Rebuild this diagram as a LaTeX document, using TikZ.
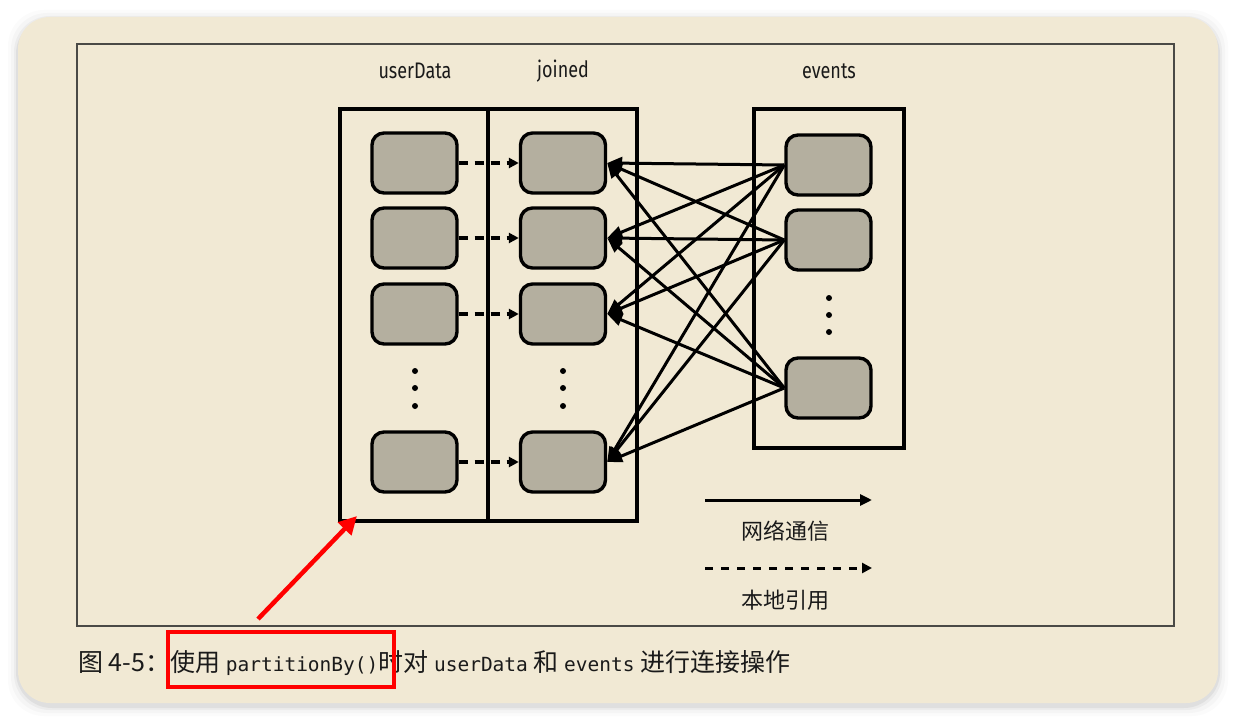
\documentclass[tikz,border=0pt]{standalone}
\usepackage{fontspec}
\usetikzlibrary{arrows.meta}
\newfontfamily\cjk{Noto Sans CJK SC}
\newfontfamily\lbl[FakeStretch=0.8]{Fira Sans}
\newfontfamily\mono{DejaVu Sans Mono}
\definecolor{card}{HTML}{F1E9D4}
\definecolor{cell}{HTML}{B4AF9F}
\definecolor{framec}{HTML}{4A4A46}
\definecolor{txt}{HTML}{1A1A1A}
\tikzset{
  bigbox/.style={draw=black, line width=3.2pt, inner sep=0pt},
  cellbox/.style={draw=black, fill=cell, line width=3.4pt, rounded corners=12pt, minimum width=85pt, minimum height=60pt, inner sep=0pt},
  netarrow/.style={draw=black, line width=3pt, -{Triangle[length=15pt,width=12pt]}},
  localarrow/.style={draw=black, line width=3.6pt, dash pattern=on 9pt off 7pt, -{Triangle[length=10pt,width=10pt]}},
  dotc/.style={fill=black, circle, inner sep=0pt, minimum size=6pt},
  title/.style={font=\lbl\fontsize{22.5}{26}\selectfont, text=txt},
  legtxt/.style={font=\cjk\fontsize{22}{26}\selectfont, text=txt},
}
\begin{document}
\begin{tikzpicture}[x=1pt,y=-1pt]
\useasboundingbox (0,0) rectangle (1236,722);
\fill[white] (0,0) rectangle (1236,722);
\foreach \d/\o in {10/0.015,7/0.025,4/0.035,2/0.05}
  \fill[black,opacity=\o,rounded corners=36pt] (18-\d,17-\d+3) rectangle (1218+\d,703+\d+3);
\fill[card, rounded corners=32pt] (18,17) rectangle (1218,703);
\draw[framec, line width=1.6pt] (77,44) rectangle (1174,626);

% big containers
\node[bigbox, minimum width=148pt, minimum height=412pt] (ud) at (414,315) {};
\node[bigbox, minimum width=149pt, minimum height=412pt] (jn) at (562.5,315) {};
\node[bigbox, minimum width=150pt, minimum height=339pt] (ev) at (829,278.5) {};

% titles
\node[title] (tu) at (415,71) {userData};
\node[title] (tj) at (563,71) {joined};
\node[title] (te) at (829,71) {events};

% cells
\foreach \n/\y in {1/163,2/238,3/314,4/462} {
  \node[cellbox] (u\n) at (414.5,\y) {};
  \node[cellbox] (j\n) at (563,\y) {};
}
\node[cellbox] (e1) at (828.5,165) {};
\node[cellbox] (e2) at (828.5,240) {};
\node[cellbox] (e4) at (828.5,388) {};

% dots
\foreach \y [count=\i] in {371,388,406} {
  \node[dotc] (ud\i) at (415,\y) {};
  \node[dotc] (jd\i) at (563,\y) {};
}
\foreach \y [count=\i] in {298,315,332} {
  \node[dotc] (ed\i) at (829,\y) {};
}

% local references
\foreach \n in {1,2,3,4}
  \draw[localarrow] (u\n.east) -- (j\n.west);

% network arrows
\foreach \e in {1,2,4}
  \foreach \j in {1,2,3,4}
    \draw[netarrow] (e\e.west) -- (j\j.east);

% legend
\coordinate (la1) at (705,500);
\coordinate (la2) at (872,500);
\draw[netarrow, -{Triangle[length=12pt,width=11pt]}] (la1) -- (la2);
\node[legtxt] (lt1) at (785,531) {网络通信};
\coordinate (lb1) at (705,568);
\coordinate (lb2) at (872,568);
\draw[localarrow, line width=3pt, dash pattern=on 8pt off 8pt] (lb1) -- (lb2);
\node[legtxt] (lt2) at (785,600) {本地引用};

% caption
\node[anchor=west, inner sep=0pt, text=txt, font=\cjk\fontsize{25}{30}\selectfont] (cap) at (78,663)
  {图 4-5：使用 {\mono\fontsize{19.5}{24}\selectfont partitionBy()}时对 {\mono\fontsize{19.5}{24}\selectfont userData} 和 {\mono\fontsize{19.5}{24}\selectfont events} 进行连接操作};

% highlight
\node[draw=red, line width=4.5pt, minimum width=226pt, minimum height=55pt, inner sep=0pt] (hl) at (281,659.5) {};
\coordinate (ra1) at (258,619);
\coordinate (ra2) at (357,516);
\draw[red, line width=4.5pt, -{Triangle[length=18pt,width=18pt]}] (ra1) -- (ra2);
\end{tikzpicture}
\end{document}
